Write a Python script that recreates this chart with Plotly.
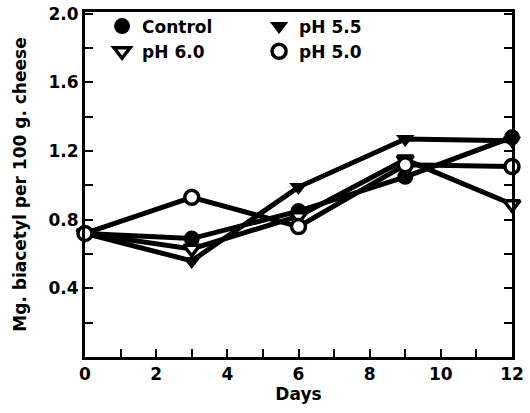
import plotly.graph_objects as go

days = [0, 3, 6, 9, 12]
control = [0.72, 0.69, 0.85, 1.05, 1.28]
ph55 = [0.72, 0.56, 0.99, 1.27, 1.26]
ph60 = [0.72, 0.63, 0.82, 1.15, 0.89]
ph50 = [0.72, 0.93, 0.76, 1.12, 1.11]

x_ticks = [0, 2, 4, 6, 8, 10, 12]
y_ticks = [0.4, 0.8, 1.2, 1.6, 2.0]
y_ticklabels = ["0.4", "0.8", "1.2", "1.6", "2.0"]

series = [
    ("Control", control, dict(symbol="circle", size=16, color="black")),
    ("pH 5.5", ph55, dict(symbol="triangle-down", size=16, color="black")),
    ("pH 6.0", ph60, dict(symbol="triangle-down", size=14, color="white", line=dict(color="black", width=3.5))),
    ("pH 5.0", ph50, dict(symbol="circle", size=14, color="white", line=dict(color="black", width=3.5))),
]

fig = go.Figure()
for name, vals, mk in series:
    fig.add_trace(go.Scatter(
        x=days, y=vals, mode="lines+markers", name=name,
        line=dict(color="black", width=5), marker=mk,
        showlegend=False, cliponaxis=False))
for name, vals, mk in series:
    fig.add_trace(go.Scatter(
        x=[None], y=[None], mode="markers", name=name, marker=mk, showlegend=True))

font = dict(family="DejaVu Sans", size=17, color="black", weight="bold")

fig.update_layout(
    width=530, height=413,
    margin=dict(l=85, r=18, t=9, b=56),
    paper_bgcolor="white", plot_bgcolor="white",
    font=font,
    legend=dict(orientation="h", x=0.04, y=1.01, xanchor="left", yanchor="top",
                entrywidth=112, entrywidthmode="pixels", bgcolor="rgba(0,0,0,0)",
                font=dict(family="DejaVu Sans", size=17, color="black", weight="bold"),
                tracegroupgap=0, itemwidth=30),
    xaxis=dict(range=[0, 12], tickvals=x_ticks, ticks="inside", ticklen=8, tickwidth=2,
               tickcolor="black", showline=True, linecolor="black", linewidth=3, mirror=True,
               showgrid=False, zeroline=False, automargin=False, ticklabeloverflow="allow",
               minor=dict(dtick=1, ticks="inside", ticklen=8, tickwidth=2, tickcolor="black"),
               title=dict(text="Days", standoff=4, font=font), tickfont=font),
    yaxis=dict(range=[0, 2.01], tickvals=y_ticks, ticktext=y_ticklabels, ticks="inside",
               ticklen=8, tickwidth=2, tickcolor="black", showline=True, linecolor="black",
               linewidth=3, mirror="ticks", showgrid=False, zeroline=False, automargin=False,
               ticklabeloverflow="allow",
               minor=dict(dtick=0.2, ticks="inside", ticklen=8, tickwidth=2, tickcolor="black"),
               title=dict(text="Mg. biacetyl per 100 g. cheese", standoff=18, font=font),
               tickfont=font),
)

fig.write_html("out.html")
